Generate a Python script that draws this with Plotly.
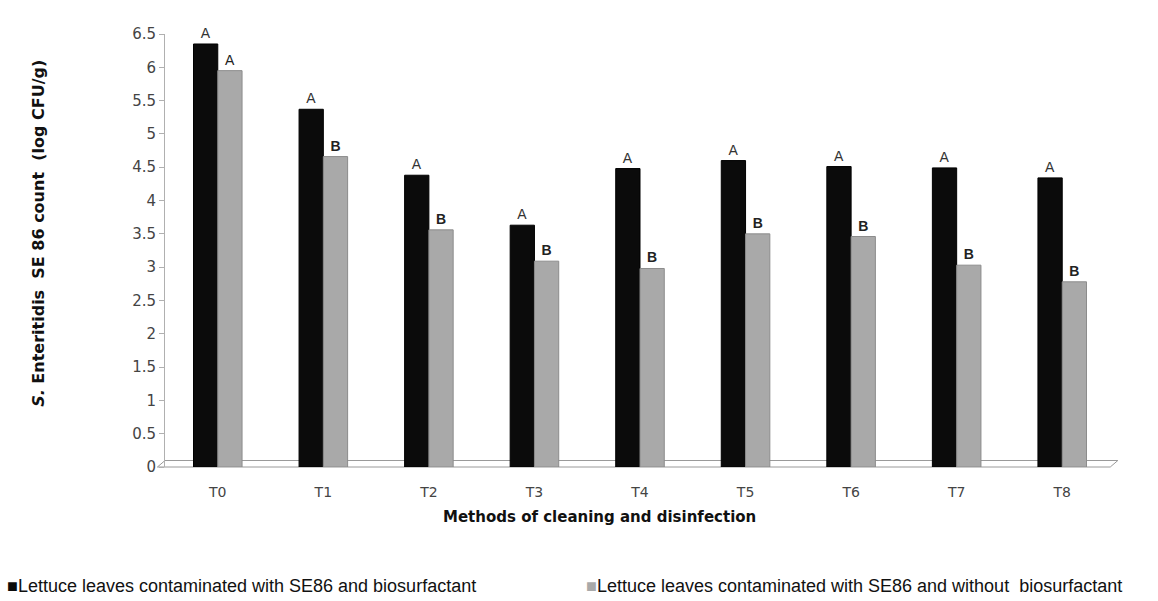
import plotly.graph_objects as go

# Treatments (cleaning / disinfection methods)
treatments = ["T0", "T1", "T2", "T3", "T4", "T5", "T6", "T7", "T8"]

# S. Enteritidis SE86 counts (log CFU/g)
with_biosurfactant = [6.35, 5.37, 4.38, 3.63, 4.48, 4.60, 4.51, 4.49, 4.34]
without_biosurfactant = [5.95, 4.66, 3.56, 3.09, 2.98, 3.50, 3.46, 3.03, 2.78]

# Statistical grouping letters
letters_with = ["A", "A", "A", "A", "A", "A", "A", "A", "A"]
letters_without = ["A", "B", "B", "B", "B", "B", "B", "B", "B"]

name_with = "Lettuce leaves contaminated with SE86 and biosurfactant"
name_without = "Lettuce leaves contaminated with SE86 and without&nbsp; biosurfactant"

BLACK = "#0b0b0b"
GREY = "#a9a9a9"


def fmt(letter):
    return f"<b>{letter}</b>" if letter == "B" else letter


fig = go.Figure()
fig.add_trace(go.Bar(
    x=treatments, y=with_biosurfactant, name=name_with,
    marker=dict(color=BLACK, line=dict(color="#000000", width=1)),
    text=[fmt(t) for t in letters_with], textposition="outside",
    textfont=dict(family="Arial, Liberation Sans", size=14, color="#333333"),
    cliponaxis=False,
))
fig.add_trace(go.Bar(
    x=treatments, y=without_biosurfactant, name=name_without,
    marker=dict(color=GREY, line=dict(color="#8c8c8c", width=1)),
    text=[fmt(t) for t in letters_without], textposition="outside",
    textfont=dict(family="Arial, Liberation Sans", size=14, color="#222222"),
    cliponaxis=False,
))

# Floor of the plot (thin grey platform under the bars)
fig.add_shape(type="path", xref="paper", yref="paper",
              path="M -0.008,0 L 0.995,0 L 1.003,0.015 L 0.0,0.015 Z",
              line=dict(color="#9a9a9a", width=1), fillcolor="white", layer="below")

# Axis titles
fig.add_annotation(xref="paper", yref="paper", x=0.457, y=-0.115, xanchor="center", yanchor="middle",
                   showarrow=False, text="<b>Methods of cleaning and disinfection</b>",
                   font=dict(family="DejaVu Sans", size=15, color="#111111"))
fig.add_annotation(xref="paper", yref="paper", x=-0.133, y=0.54, xanchor="center", yanchor="middle",
                   textangle=-90, showarrow=False,
                   text="<b><i>S.</i> Enteritidis&nbsp; SE 86 count&nbsp; (log CFU/g)</b>",
                   font=dict(family="DejaVu Sans", size=16, color="#111111"))

# Legend drawn beneath the axis title
legend_font = dict(family="Arial, Liberation Sans", size=18, color="#111111")
fig.add_annotation(xref="paper", yref="paper", x=-0.168, y=-0.275, xanchor="left", yanchor="middle",
                   showarrow=False, text=f"<span style='color:{BLACK}'>■</span>{name_with}",
                   font=legend_font)
fig.add_annotation(xref="paper", yref="paper", x=0.441, y=-0.275, xanchor="left", yanchor="middle",
                   showarrow=False, text=f"<span style='color:{GREY}'>■</span>{name_without}",
                   font=legend_font)

fig.update_layout(
    width=1158, height=601,
    margin=dict(l=165, r=43, t=34, b=134),
    paper_bgcolor="white", plot_bgcolor="white",
    barmode="group", bargap=0.54, bargroupgap=0.0,
    showlegend=False,
    font=dict(family="Arial, Liberation Sans", color="#333333"),
)
fig.update_xaxes(
    showline=False, showgrid=False,
    ticks="outside", ticklen=12, tickcolor="rgba(0,0,0,0)",
    tickfont=dict(family="DejaVu Sans", size=14, color="#444444"),
)
fig.update_yaxes(
    range=[0, 6.5], dtick=0.5,
    showgrid=False, zeroline=False,
    showline=True, linecolor="#b0b0b0", linewidth=1,
    ticks="outside", ticklen=5, tickcolor="#b0b0b0",
    tickfont=dict(family="DejaVu Sans", size=15, color="#444444"),
)

fig.write_html("out.html")
